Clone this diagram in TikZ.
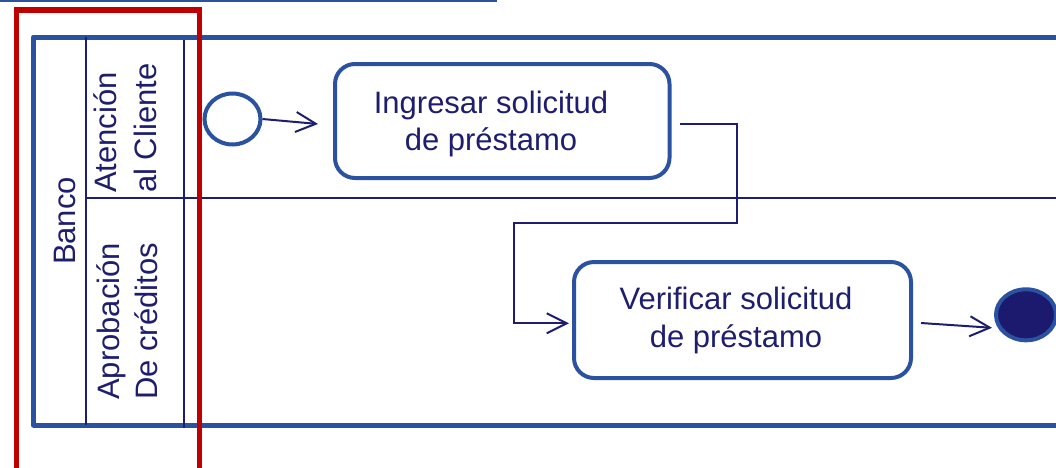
\documentclass[tikz,border=0pt]{standalone}
\usepackage{fontspec}
\setmainfont{Liberation Sans}
\usetikzlibrary{arrows.meta,calc,shapes.geometric}
\definecolor{poolblue}{HTML}{2A52A0}
\definecolor{navy}{HTML}{1E1E6E}
\definecolor{redbox}{HTML}{C00000}
\definecolor{endfill}{HTML}{1C1A6E}
\begin{document}
\begin{tikzpicture}[x=1pt,y=-1pt,
  pool/.style={draw=poolblue,line width=5pt,line join=round},
  lane/.style={draw=navy,line width=2pt},
  task/.style={draw=poolblue,line width=4pt,rounded corners=20pt,inner sep=0pt},
  tasktext/.style={text=navy,align=center,inner sep=0pt,font=\fontsize{31}{37.7}\selectfont},
  lanetext/.style={text=navy,inner sep=0pt,rotate=90,font=\fontsize{31}{37.7}\selectfont},
  conn/.style={draw=navy,line width=2pt,-{Straight Barb[length=20pt,width=20pt]}},
  startev/.style={ellipse,draw=poolblue,line width=4pt,fill=white,inner sep=0pt,minimum width=56pt,minimum height=51pt},
  endev/.style={ellipse,draw=poolblue,line width=4pt,fill=endfill,inner sep=0pt,minimum width=60pt,minimum height=51pt}]
\useasboundingbox (0,0) rectangle (1056,467);
% top rule
\draw[draw=poolblue,line width=2pt] (0,0.5) -- (497,0.5);
% pool
\draw[pool] (1060,37) -- (33.5,37) -- (33.5,425) -- (1060,425);
% lane lines
\draw[lane] (86,37) -- (86,425);
\draw[lane] (184,40) -- (184,428);
\draw[lane] (86,198) -- (1056,198);
% labels
\node[lanetext,anchor=base] (banco) at (75.5,221) {Banco};
\node[lanetext,anchor=base west] (l1a) at (116.5,193) {Atención};
\node[lanetext,anchor=base west] (l1b) at (156.5,193) {al Cliente};
\node[lanetext,anchor=base west] (l2a) at (119,400) {Aprobación};
\node[lanetext,anchor=base west] (l2b) at (157,400) {De créditos};
% events and tasks
\node[startev] (s) at (232.5,119) {};
\node[task,minimum width=334.5pt,minimum height=114pt] (b1) at (502.25,121) {};
\node[tasktext] (t1) at (491,124) {Ingresar solicitud\\de préstamo};
\node[task,minimum width=337pt,minimum height=116pt] (b2) at (742.5,320) {};
\node[tasktext] (t2) at (736,320.8) {Verificar solicitud\\de préstamo};
\node[endev] (e) at (1026,314.8) {};
% connectors
\coordinate (bend) at (514,223);
\draw[conn] (s.east) -- ($(b1.west)+(-15,3)$);
\draw[conn] ($(b1.east)+(8,3)$) -- ++(57,0) |- (bend) |- ($(b2.west)+(-3,3.3)$);
\draw[conn] ($(b2.east)+(8,3)$) -- ($(e.west)+(-2,13)$);
% highlight frame
\draw[draw=redbox,line width=5.5pt] (16.5,10) rectangle (199.5,472);
\end{tikzpicture}
\end{document}
